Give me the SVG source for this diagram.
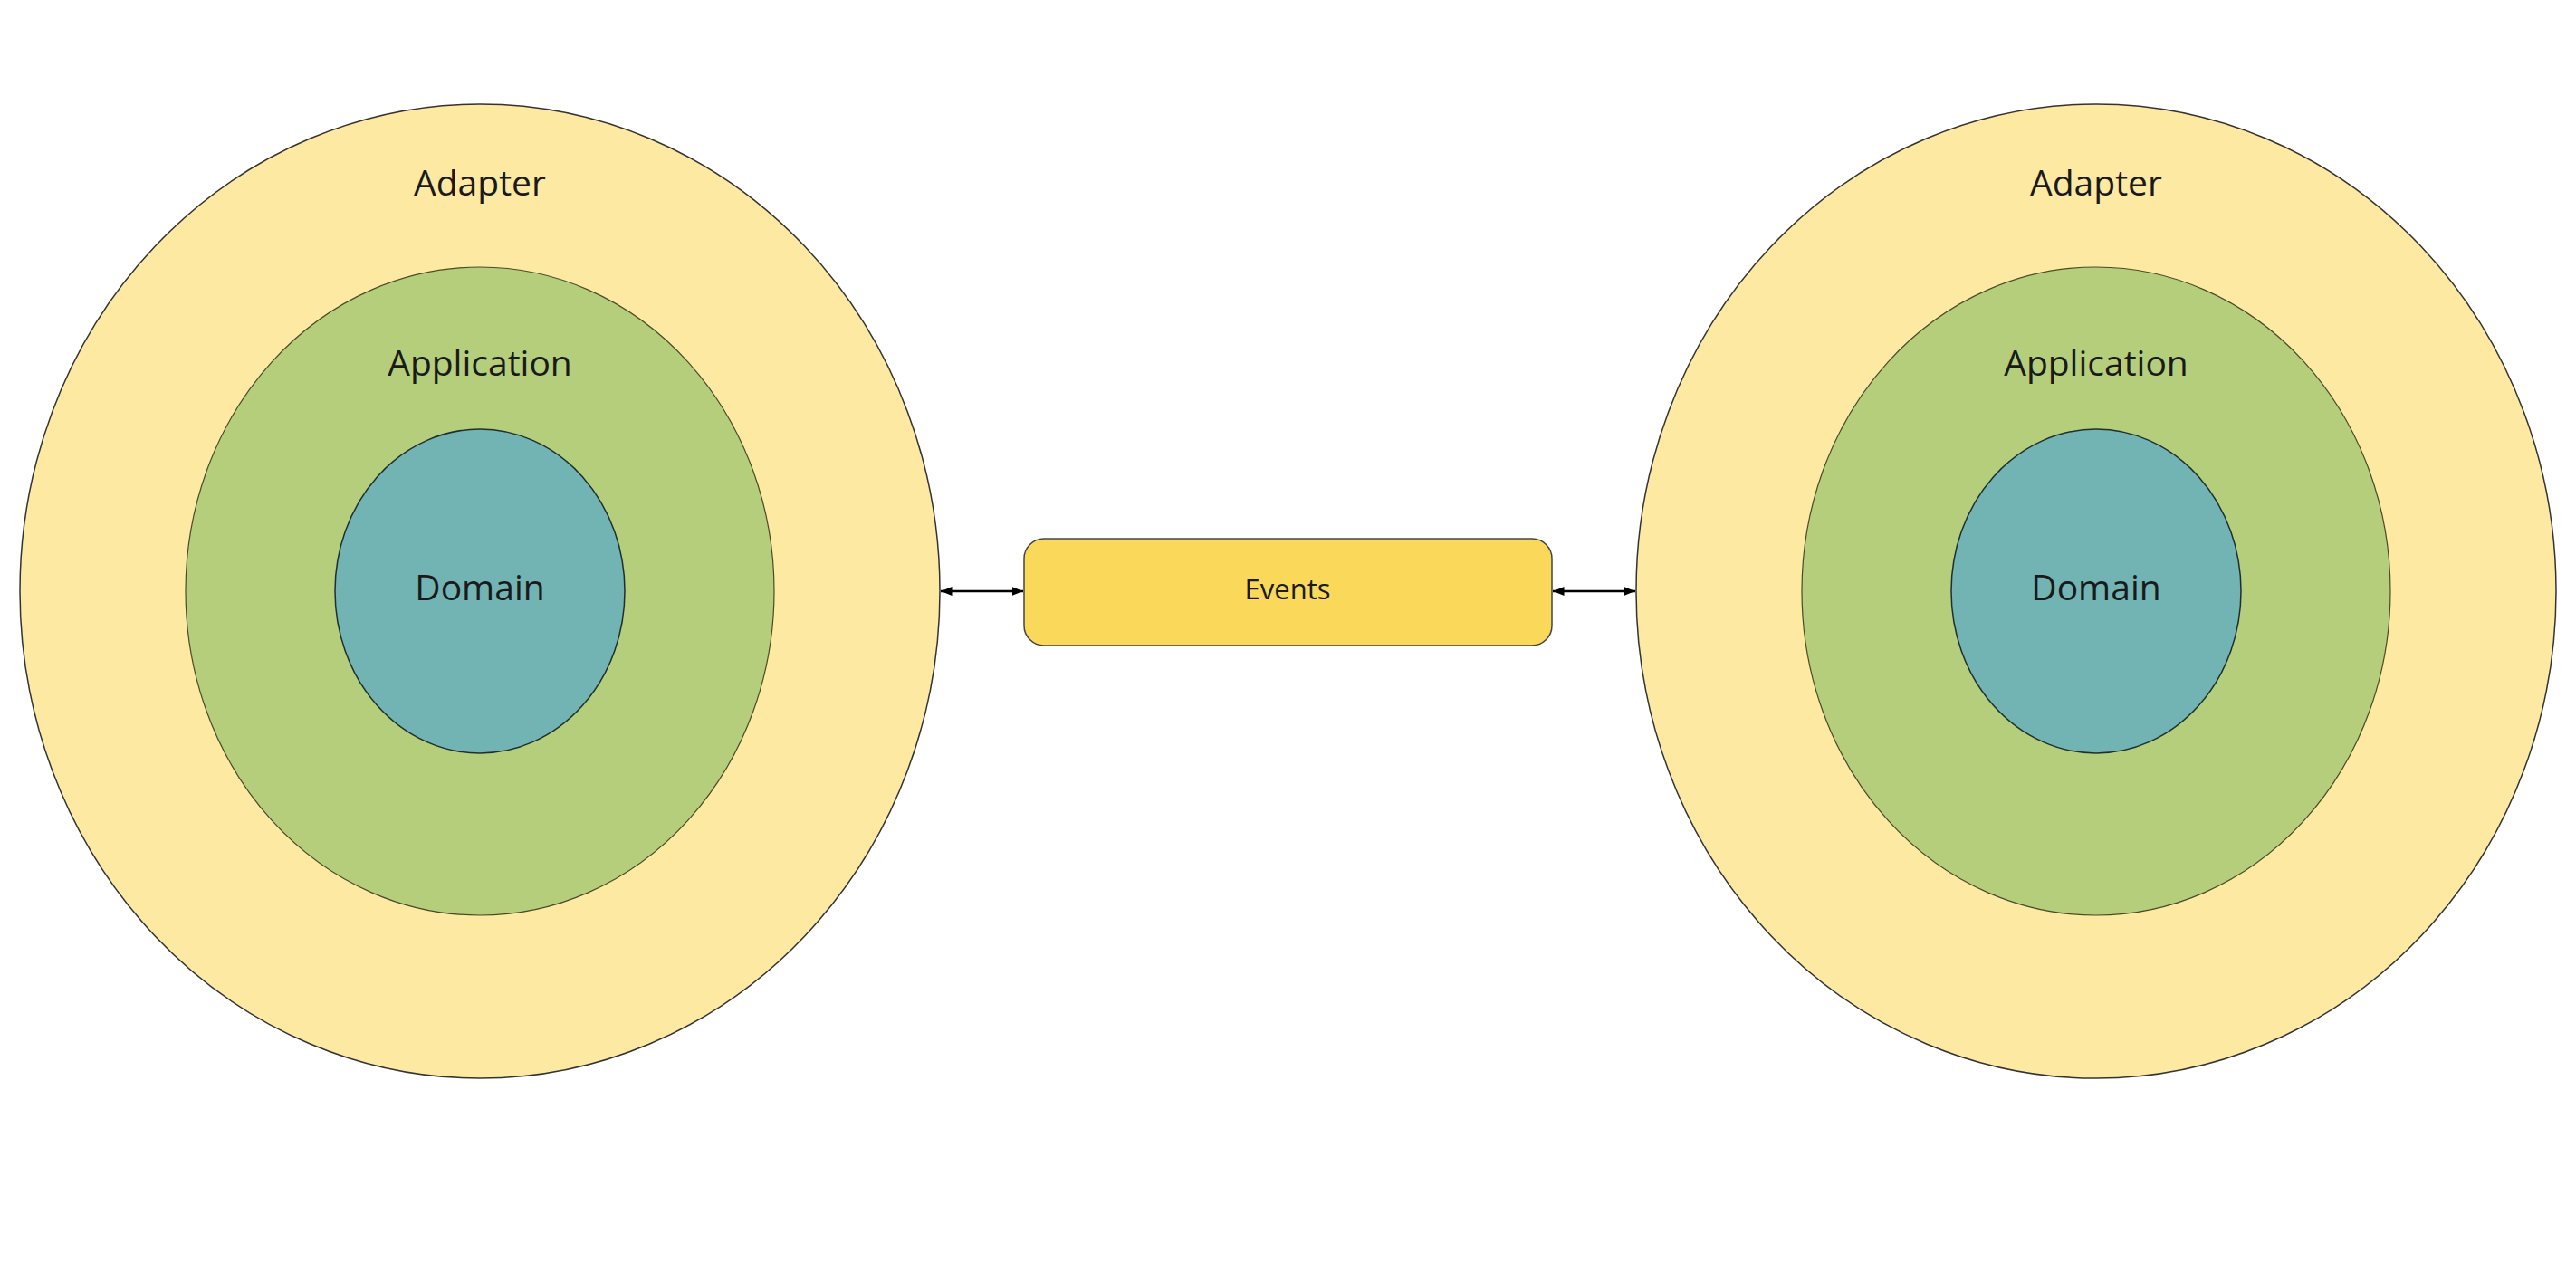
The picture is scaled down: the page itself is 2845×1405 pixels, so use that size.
<svg xmlns="http://www.w3.org/2000/svg" width="2845" height="1405" viewBox="0 0 2845 1405">
<style>
.adapter{fill:#FDE9A2;stroke:#333;stroke-width:1.5}
.app{fill:#B5CE7B;stroke:#4a4a2a;stroke-width:1.2}
.domain{fill:#71B4B3;stroke:#1f2f2f;stroke-width:1.5}
.events{fill:#F9D85A;stroke:#444;stroke-width:1.5}
.lbl{font-family:"Open Sans","Noto Sans",sans-serif;fill:#1a1a1a;text-anchor:middle}
.big{font-size:39px}
.mid{font-size:31px}
.conn{stroke:#000;stroke-width:2.5;fill:none;marker-start:url(#ah);marker-end:url(#ah)}
</style>
<defs>
<marker id="ah" viewBox="0 0 10 10" refX="10" refY="5" markerWidth="5" markerHeight="5" orient="auto-start-reverse" markerUnits="strokeWidth">
<path d="M0,1 L10,5 L0,9 z" fill="#000"/>
</marker>
</defs>
<rect width="2845" height="1405" fill="#fff"/>
<g id="left-hexagon">
<g id="left-adapter"><ellipse class="adapter" cx="530" cy="653" rx="508" ry="538"/><text class="lbl big" x="530" y="216">Adapter</text></g>
<g id="left-application"><ellipse class="app" cx="530" cy="653" rx="325" ry="358"/><text class="lbl big" x="530" y="415">Application</text></g>
<g id="left-domain"><ellipse class="domain" cx="530" cy="653" rx="160" ry="179"/><text class="lbl big" x="530" y="663">Domain</text></g>
</g>
<g id="right-hexagon">
<g id="right-adapter"><ellipse class="adapter" cx="2315" cy="653" rx="508" ry="538"/><text class="lbl big" x="2315" y="216">Adapter</text></g>
<g id="right-application"><ellipse class="app" cx="2315" cy="653" rx="325" ry="358"/><text class="lbl big" x="2315" y="415">Application</text></g>
<g id="right-domain"><ellipse class="domain" cx="2315" cy="653" rx="160" ry="179"/><text class="lbl big" x="2315" y="663">Domain</text></g>
</g>
<g id="events">
<rect class="events" x="1131" y="595" width="583" height="118" rx="22" ry="22"/>
<text class="lbl mid" x="1422" y="662">Events</text>
</g>
<g id="connectors">
<line class="conn" x1="1039" y1="653" x2="1130" y2="653"/>
<line class="conn" x1="1715" y1="653" x2="1806" y2="653"/>
</g>
</svg>
